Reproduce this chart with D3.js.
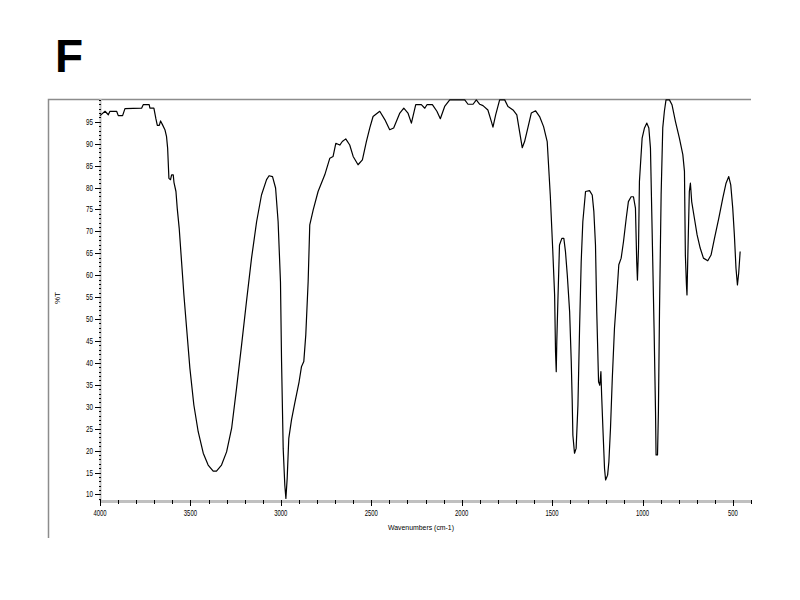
<html>
<head>
<script src="https://d3js.org/d3.v7.min.js"></script>
<style>
  body { margin: 0; background: #fff; }
  text { font-family: Arial, "Liberation Sans", sans-serif; }
</style>
</head>
<body>
<svg id="chart" width="800" height="600"></svg>
<script>
// IR spectrum "F"
var wavenumbers = [4000,3972,3954,3945,3908,3899,3875,3862,3770,3761,3728,3724,3702,3691,3683,3672,3665,3654,3641,3632,
  3626,3619,3610,3604,3595,3591,3580,3573,3562,3549,3536,3521,3503,3481,3457,3429,3402,3374,3356,3328,
  3300,3272,3245,3217,3190,3162,3134,3107,3079,3065,3046,3029,3015,3002,2996,2987,2978,2972,2965,2956,
  2941,2923,2899,2886,2873,2862,2849,2840,2821,2794,2757,2729,2711,2696,2674,2660,2641,2619,2600,2573,
  2549,2527,2508,2490,2453,2425,2398,2376,2342,2320,2297,2278,2254,2223,2204,2192,2162,2137,2118,2094,
  2066,1983,1965,1937,1919,1900,1882,1855,1836,1827,1812,1790,1762,1744,1716,1695,1680,1665,1652,1634,
  1615,1591,1569,1547,1527,1510,1496,1486,1481,1477,1474,1468,1459,1446,1435,1426,1416,1403,1394,1389,
  1385,1376,1367,1357,1348,1339,1330,1315,1293,1278,1269,1260,1253,1243,1236,1230,1226,1219,1210,1204,
  1193,1186,1177,1167,1155,1142,1131,1118,1105,1090,1078,1063,1050,1039,1032,1028,1022,1017,1002,989,
  976,965,956,947,936,928,925,917,912,906,897,888,879,870,851,837,818,796,777,768,
  763,757,754,748,741,735,728,713,698,681,663,639,621,602,578,556,538,523,512,501,
  492,483,475,468,460];
var transmittance = [96.4,97.4,96.6,97.4,97.4,96.4,96.4,98.0,98.1,98.9,98.9,98.1,98.1,95.7,94.2,94.2,95.2,94.3,93.2,91.6,
  89.0,82.1,81.8,82.9,82.9,81.2,79.1,75.3,70.7,63.1,55.5,47.9,38.8,30.4,24.3,19.4,16.7,15.3,15.3,16.7,
  19.7,25.1,34.2,44.1,54.0,63.9,72.2,78.3,81.8,82.7,82.5,79.9,72.2,58.5,40.3,20.5,12.1,9.1,13.6,22.8,
  27.0,30.8,35.7,39.1,40.3,46.4,58.5,71.5,74.9,79.1,82.9,86.7,87.1,90.1,89.7,90.5,91.1,89.7,87.1,85.2,
  86.3,90.5,93.6,96.2,97.4,95.5,93.2,93.6,97.0,98.1,97.0,94.7,98.9,98.9,98.1,98.9,98.9,97.4,95.7,98.5,
  100,100,99.0,99.0,100,99.0,98.7,97.7,95.1,93.8,96.6,100,100,98.5,97.7,96.6,92.8,89.1,90.5,93.6,
  97.0,97.5,96.2,93.9,90.5,78.3,65.4,55.5,42.6,38.0,44.8,54.0,66.9,68.4,68.4,65.4,60.1,51.7,40.3,31.9,
  23.5,19.4,20.5,30.4,47.9,63.1,72.2,79.1,79.3,78.3,74.5,66.9,51.7,35.7,34.9,38.0,32.7,25.1,15.9,13.3,
  14.4,17.4,25.1,36.5,47.9,55.5,62.4,63.9,67.7,73.0,76.8,77.9,77.9,75.3,63.1,58.9,66.2,81.4,91.3,93.6,
  94.7,93.6,89.0,70.7,47.9,28.9,19.0,19.0,28.9,51.7,78.3,93.6,97.4,100,100,98.9,95.1,91.3,87.5,83.7,
  64.6,57.8,55.5,66.9,79.1,81.0,76.8,73.0,69.2,66.2,63.9,63.3,64.6,68.4,73.0,77.6,81.0,82.5,80.6,75.3,
  69.2,61.6,57.8,60.5,65.4];

var yLabels = d3.range(10, 100, 5);          // 10 ... 95
var xLabels = [4000, 3500, 3000, 2500, 2000, 1500, 1000, 500];
var xMinor = d3.range(4000, 399, -100);
var yMinor = d3.range(9, 101, 1);

var svg = d3.select("#chart");

var x = d3.scaleLinear().domain([4000, 400]).range([100, 751]);
var y = d3.scaleLinear().domain([8.5, 100.2]).range([501, 99]);

// outer frame (left and top only)
svg.append("path")
    .attr("d", "M48.5,538 L48.5,99.5 L751,99.5")
    .attr("fill", "none")
    .attr("stroke", "#8c8c8c")
    .attr("stroke-width", 1.5);

// title
svg.append("text")
    .attr("x", 55).attr("y", 72)
    .attr("font-size", 46).attr("font-weight", "bold")
    .text("F");

// y axis
var yAxis = svg.append("g");
yAxis.append("line")
    .attr("x1", 100.5).attr("x2", 100.5)
    .attr("y1", y(100.2)).attr("y2", 501)
    .attr("stroke", "#c0c0c0").attr("stroke-width", 2);
yAxis.selectAll(".ymin").data(yMinor).enter().append("line")
    .attr("x1", 99).attr("x2", 101)
    .attr("y1", function(d) { return Math.round(y(d)) + 0.5; })
    .attr("y2", function(d) { return Math.round(y(d)) + 0.5; })
    .attr("stroke", "#000").attr("stroke-width", 1);
yAxis.selectAll(".ymaj").data(yLabels).enter().append("line")
    .attr("x1", 95).attr("x2", 101)
    .attr("y1", function(d) { return Math.round(y(d)) + 0.5; })
    .attr("y2", function(d) { return Math.round(y(d)) + 0.5; })
    .attr("stroke", "#000").attr("stroke-width", 1);
yAxis.selectAll("text").data(yLabels).enter().append("text")
    .attr("x", 93)
    .attr("y", function(d) { return y(d) + 3; })
    .attr("text-anchor", "end")
    .attr("font-size", 9)
    .attr("textLength", 7)
    .attr("lengthAdjust", "spacingAndGlyphs")
    .text(function(d) { return d; });

// x axis
var xAxis = svg.append("g");
xAxis.append("line")
    .attr("x1", 100).attr("x2", 751)
    .attr("y1", 501.5).attr("y2", 501.5)
    .attr("stroke", "#c0c0c0").attr("stroke-width", 3);
xAxis.selectAll(".xmin").data(xMinor).enter().append("line")
    .attr("x1", function(d) { return Math.round(x(d)) + 0.5; })
    .attr("x2", function(d) { return Math.round(x(d)) + 0.5; })
    .attr("y1", 500).attr("y2", function(d) { return d % 500 === 0 ? 506 : 504; })
    .attr("stroke", "#000").attr("stroke-width", 1);
xAxis.selectAll("text").data(xLabels).enter().append("text")
    .attr("x", function(d) { return x(d); })
    .attr("y", 516)
    .attr("text-anchor", "middle")
    .attr("font-size", 9)
    .attr("textLength", function(d) { return String(d).length * 3.3; })
    .attr("lengthAdjust", "spacingAndGlyphs")
    .text(function(d) { return d; });

// axis titles
svg.append("text")
    .attr("x", 421).attr("y", 530)
    .attr("text-anchor", "middle")
    .attr("font-size", 8)
    .attr("textLength", 66)
    .attr("lengthAdjust", "spacingAndGlyphs")
    .text("Wavenumbers (cm-1)");
svg.append("text")
    .attr("transform", "translate(60,298) rotate(-90)")
    .attr("text-anchor", "middle")
    .attr("font-size", 8)
    .text("%T");

// spectrum
var pts = wavenumbers.map(function(w, i) { return [w, transmittance[i]]; });
var line = d3.line()
    .x(function(d) { return x(d[0]); })
    .y(function(d) { return y(d[1]); });
svg.append("path")
    .datum(pts)
    .attr("d", line)
    .attr("fill", "none")
    .attr("stroke", "#000")
    .attr("stroke-width", 1.2)
    .attr("stroke-linejoin", "round");
</script>
</body>
</html>
